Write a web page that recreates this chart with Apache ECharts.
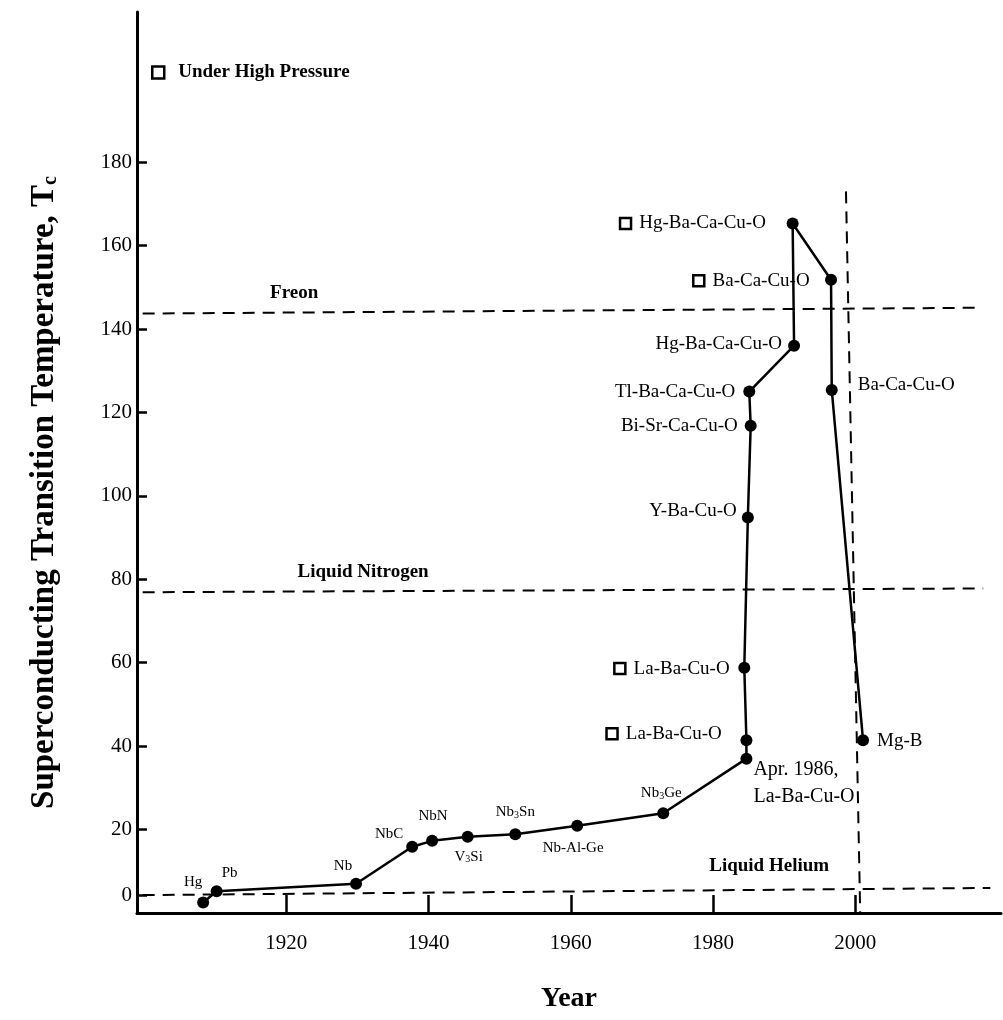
<!DOCTYPE html>
<html><head><meta charset="utf-8">
<script src="https://cdn.jsdelivr.net/npm/echarts@6/dist/echarts.min.js"></script>
<style>html,body{margin:0;padding:0;background:#fff}#c{width:1003px;height:1020px}</style>
</head><body><div id="c"></div>
<script>
// ---- data ----
const matNames = ['Hg','Pb','Nb','NbC','NbN','V3Si','Nb3Sn','Nb-Al-Ge','Nb3Ge','Apr. 1986,\nLa-Ba-Cu-O','La-Ba-Cu-O','La-Ba-Cu-O','Y-Ba-Cu-O','Bi-Sr-Ca-Cu-O','Tl-Ba-Ca-Cu-O','Hg-Ba-Ca-Cu-O','Hg-Ba-Ca-Cu-O','Ba-Ca-Cu-O','Ba-Ca-Cu-O','Mg-B'];
const matYear = [1908.3,1910.2,1929.8,1937.7,1940.5,1945.5,1952.2,1960.9,1973.0,1984.7,1984.7,1984.4,1984.9,1985.3,1985.1,1991.4,1991.2,1996.6,1996.7,2001.1];
const matTc = [2.5,5.2,7.0,15.9,17.3,18.3,18.9,20.9,23.9,37.0,41.4,58.8,94.8,116.8,125.0,136.0,165.3,151.8,125.4,41.4];
const hpNames = ['Hg-Ba-Ca-Cu-O','Ba-Ca-Cu-O','La-Ba-Cu-O','La-Ba-Cu-O'];
const hpYear = [1967.7,1978.0,1966.9,1965.8];
const hpTc = [165.3,151.6,58.6,43.0];
const refNames = ['Freon','Liquid Nitrogen','Liquid Helium'];
const refStartYear = [1899.8,1899.8,1899.8];
const refEndYear = [2017.3,2018.0,2019.0];
const refStartT = [143.7,76.9,4.3];
const refEndT = [145.1,77.8,6.0];
const refLabelYear = [1921.1,1930.8,1987.9];
const refLabelT = [148.5,81.7,11.3];
const yearLineYear = [1998.7,2000.7];
const yearLineT = [173,0];
const xTickValues = [1920,1940,1960,1980,2000];
const yTickValues = [4.2,20,40,60,80,100,120,140,160,180];
const yTickLabels = ['0','20','40','60','80','100','120','140','160','180'];
const legendName = 'Under High Pressure';

// ---- label placement (style, kept separate) ----
const FONT = 'Liberation Serif';
const labelPlace = [
  ['s',[-10,-21]],['s',[13,-18]],['s',[-13,-18]],['s',[-23,-13]],['s',[1,-25]],
  ['s',[1,20]],['s',[0,-22]],['s',[-4,22]],['s',[-2,-20]],['bl',[7,-2]],
  null,null,['r',[-11,-7]],['r',[-13,0]],['r',[-14,0]],['r',[-12,-2]],
  null,null,['l',[26,-5]],['l',[14,1]]
];
function labelFor(i){
  const p = labelPlace[i];
  if(!p) return {show:false};
  const base = {show:true, position:'inside', offset:p[1], color:'#000', fontFamily:FONT, textBorderWidth:0};
  if(p[0]==='s'){
    return Object.assign(base,{align:'center',verticalAlign:'middle',fontSize:15,
      formatter:(d)=>d.name.replace(/(\d)/g,'{sub|$1}'),
      rich:{sub:{fontSize:10,verticalAlign:'bottom',fontFamily:FONT,color:'#000',padding:[6,0,0,0]}}});
  }
  if(p[0]==='bl') return Object.assign(base,{align:'left',verticalAlign:'top',fontSize:20,lineHeight:27,formatter:'{b}'});
  if(p[0]==='r') return Object.assign(base,{align:'right',verticalAlign:'middle',fontSize:19,formatter:'{b}'});
  return Object.assign(base,{align:'left',verticalAlign:'middle',fontSize:19,formatter:'{b}'});
}

const mainData = matYear.map((x,i)=>({name:matNames[i], value:[x, matTc[i]], label:labelFor(i)}));
const hpData = hpYear.map((x,i)=>({name:hpNames[i], value:[x, hpTc[i]]}));
const dash = {color:'#000', width:2, type:[12,8]};

const series = [];
refNames.forEach((n,i)=>{
  series.push({type:'line', name:n, silent:true, symbol:'none', lineStyle:dash, z:1,
    data:[[refStartYear[i],refStartT[i]],[refEndYear[i],refEndT[i]]]});
});
series.push({type:'line', name:'2000', silent:true, symbol:'none', lineStyle:dash, z:1,
  data:yearLineYear.map((x,i)=>[x, yearLineT[i]])});
series.push({type:'scatter', name:'refLabels', silent:true, symbolSize:0, itemStyle:{opacity:1},
  data:refNames.map((n,i)=>({name:n, value:[refLabelYear[i], refLabelT[i]]})),
  label:{show:true, position:'inside', formatter:'{b}', color:'#000', fontFamily:FONT, fontWeight:'bold', fontSize:19}});
series.push({type:'line', name:'Tc', data:mainData, symbol:'circle', symbolSize:12, showAllSymbol:true,
  itemStyle:{color:'#000'}, lineStyle:{color:'#000', width:2.5}, z:5});
series.push({type:'scatter', name:legendName, data:hpData, symbol:'rect', symbolSize:11,
  itemStyle:{color:'#fff', borderColor:'#000', borderWidth:2.5, opacity:1}, z:6,
  label:{show:true, position:'right', distance:7, formatter:'{b}', color:'#000', fontFamily:FONT, fontSize:19}});

const chart = echarts.init(document.getElementById('c'), null, {renderer:'canvas'});
chart.setOption({
  animation:false,
  backgroundColor:'#fff',
  textStyle:{fontFamily:FONT, color:'#000'},
  grid:{left:137, right:2, top:12, bottom:107, containLabel:false},
  legend:{data:[legendName], left:146, top:58, icon:'rect', itemWidth:12, itemHeight:12,
    itemStyle:{color:'#fff', borderColor:'#000', borderWidth:2.5},
    textStyle:{fontFamily:FONT, fontWeight:'bold', fontSize:19, color:'#000', padding:[0,0,0,9]}},
  xAxis:{type:'value', min:1899, max:2020.5,
    name:'Year', nameLocation:'middle', nameGap:72,
    nameTextStyle:{fontFamily:FONT, fontWeight:'bold', fontSize:28, color:'#000'},
    axisLine:{show:true, onZero:false, lineStyle:{color:'#000', width:3}},
    axisTick:{show:true, inside:true, length:18, customValues:xTickValues, lineStyle:{color:'#000', width:2.5}},
    axisLabel:{show:true, customValues:xTickValues, margin:20, fontSize:21, fontFamily:FONT, color:'#000',
      formatter:(v)=>String(Math.round(v))},
    splitLine:{show:false}},
  yAxis:{type:'value', min:0, max:216,
    name:'{m|Superconducting Transition Temperature, T}{s|c}', nameLocation:'middle', nameGap:76, nameRotate:90,
    nameTextStyle:{padding:[0,60,0,0], rich:{
      m:{fontFamily:FONT, fontWeight:'bold', fontSize:33, color:'#000'},
      s:{fontFamily:FONT, fontWeight:'bold', fontSize:20, color:'#000', verticalAlign:'bottom'}}},
    axisLine:{show:true, onZero:false, lineStyle:{color:'#000', width:3}},
    axisTick:{show:true, inside:true, length:10, customValues:yTickValues, lineStyle:{color:'#000', width:2.5}},
    axisLabel:{show:true, customValues:yTickValues, margin:5, fontSize:21, fontFamily:FONT, color:'#000',
      formatter:(v)=>{const i=yTickValues.findIndex(t=>Math.abs(t-v)<0.01); return i>=0?yTickLabels[i]:'';}},
    splitLine:{show:false}},
  series:series
});
</script></body></html>
